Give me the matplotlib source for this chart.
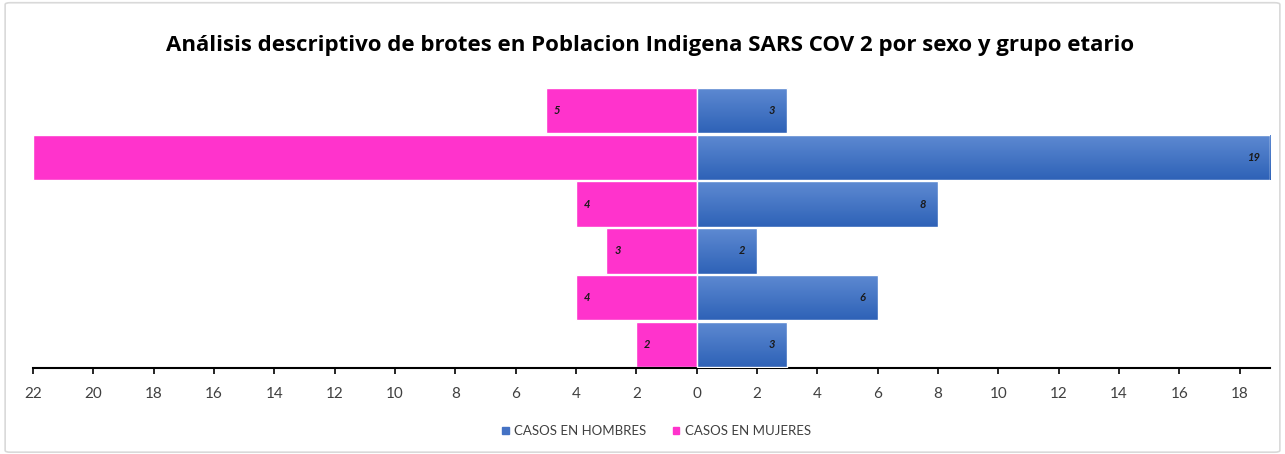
import matplotlib
matplotlib.use("Agg")
import matplotlib.pyplot as plt
import numpy as np
from matplotlib.colors import LinearSegmentedColormap
from matplotlib.patches import FancyBboxPatch

# rows listed top to bottom
grupos = ["G1", "G2", "G3", "G4", "G5", "G6"]
hombres = [3, 19, 8, 2, 6, 3]
mujeres = [5, 22, 4, 3, 4, 2]
etiqueta_mujeres = ["5", None, "4", "3", "4", "2"]
xticks = [-22, -20, -18, -16, -14, -12, -10, -8, -6, -4, -2, 0, 2, 4, 6, 8, 10, 12, 14, 16, 18]

title = "Análisis descriptivo de brotes en Poblacion Indigena SARS COV 2 por sexo y grupo etario"
azul = "#4472C4"
rosa = "#FF33CC"

plt.rcParams["font.family"] = ["Lato", "DejaVu Sans"]

fig = plt.figure(figsize=(12.85, 4.54), dpi=100)
fig.patches.append(FancyBboxPatch((0.004, 0.004), 0.992, 0.99, boxstyle="round,pad=0,rounding_size=0.004",
                                  transform=fig.transFigure, fill=False, edgecolor="#D9D9D9", lw=1.2))
ax = fig.add_axes([0.0257, 0.1894, 0.9626, 0.619])

y = np.arange(len(grupos))[::-1]
blue_cmap = LinearSegmentedColormap.from_list("b", ["#2E62B7", "#5E8AD2"])

bars_h = ax.barh(y, hombres, height=0.97, color=azul, edgecolor="white", lw=1)
bars_m = ax.barh(y, [-v for v in mujeres], height=0.97, color=rosa, edgecolor="white", lw=1)

# vertical gradient on the blue bars
grad = np.linspace(0, 1, 50).reshape(-1, 1)
for b in bars_h:
    x0, y0, w, h = b.get_x(), b.get_y(), b.get_width(), b.get_height()
    im = ax.imshow(grad, cmap=blue_cmap, aspect="auto", origin="lower",
                   extent=(x0, x0 + w, y0, y0 + h), zorder=b.get_zorder() + 0.1)
    im.set_clip_path(b)
    b.set_facecolor("none")
    b.set_zorder(3)

for yi, v in zip(y, hombres):
    ax.annotate(str(v), (v, yi), xytext=(-11, 0), textcoords="offset points",
                ha="center", va="center", fontsize=8, style="italic", weight="bold",
                color="#1a1a1a", zorder=5)
for yi, v, lab in zip(y, mujeres, etiqueta_mujeres):
    if lab is None:
        continue
    ax.annotate(lab, (-v, yi), xytext=(8, 0), textcoords="offset points",
                ha="center", va="center", fontsize=8, style="italic", weight="bold",
                color="#1a1a1a", zorder=5)

ax.set_xlim(-22, 19)
ax.set_ylim(-0.5, len(grupos) - 0.5)
ax.set_xticks(xticks)
ax.set_xticklabels([str(abs(t)) for t in xticks])
ax.set_yticks([])
for s in ["top", "right", "left"]:
    ax.spines[s].set_visible(False)
ax.spines["bottom"].set_linewidth(1.5)
ax.tick_params(axis="x", length=4, width=1.2, pad=10, labelsize=11, labelcolor="#404040")

fig.text(0.506, 0.899, title, ha="center", va="center", fontsize=16, weight="bold",
         family=["Open Sans", "DejaVu Sans"], color="black")

h1 = plt.Rectangle((0, 0), 1, 1, color=azul)
h2 = plt.Rectangle((0, 0), 1, 1, color=rosa)
fig.legend([h1, h2], ["CASOS EN HOMBRES", "CASOS EN MUJERES"], loc="center",
           bbox_to_anchor=(0.511, 0.05), ncol=2, frameon=False, fontsize=9.5,
           handlelength=0.5, handleheight=0.5, handletextpad=0.4, columnspacing=2.0,
           labelcolor="#404040")

fig.savefig("out.png", dpi=100)
